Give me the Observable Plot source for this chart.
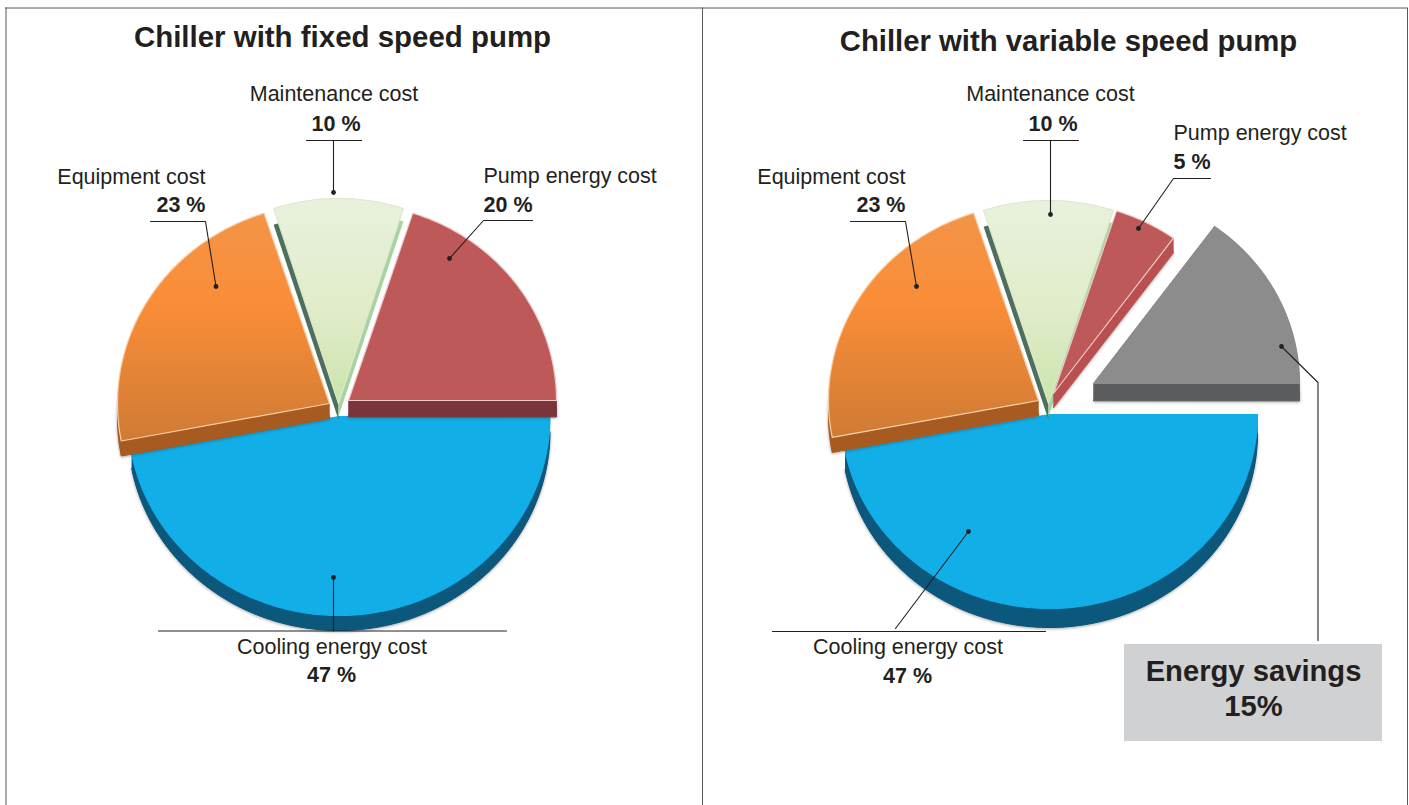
<!DOCTYPE html>
<html>
<head>
<meta charset="utf-8">
<script src="https://cdn.jsdelivr.net/npm/d3@7"></script>
<script src="https://cdn.jsdelivr.net/npm/@observablehq/plot@0.6"></script>
<style>html,body{margin:0;padding:0;background:#fff}svg{display:block}</style>
</head>
<body>
<div id="chart"></div>
<script>
// ---- values
const titles = ["Chiller with fixed speed pump", "Chiller with variable speed pump"];
const fixedCategories = ["Cooling energy cost", "Equipment cost", "Maintenance cost", "Pump energy cost"];
const fixedValues = [47, 23, 10, 20];
const variableCategories = ["Cooling energy cost", "Equipment cost", "Maintenance cost", "Pump energy cost", "Energy savings"];
const variableValues = [47, 23, 10, 5, 15];
const savingsLabel = ["Energy savings", "15%"];

// ---- exploded-pie layout of each slice (chart units)
const fixedLayout = [
  {cx: 338.5, cy: 416, rx: 211, ry: 199, depth: 15},
  {cx: 329, cy: 403, rx: 212, ry: 200, depth: 15},
  {cx: 338, cy: 403, rx: 210, ry: 205, depth: 13},
  {cx: 348, cy: 400, rx: 208, ry: 197, depth: 16}
];
const variableLayout = [
  {cx: 1049, cy: 414, rx: 208, ry: 194, depth: 19},
  {cx: 1038, cy: 400, rx: 210, ry: 197, depth: 15},
  {cx: 1048, cy: 403, rx: 210, ry: 203, depth: 13},
  {cx: 1053, cy: 393, rx: 204, ry: 192, depth: 14, sideFill: "#b9504f"},
  {cx: 1093, cy: 383, rx: 206, ry: 194, depth: 17}
];
const sliceStyle = {
  "Cooling energy cost": {face: "#12aee8", edge: "#12aee8", side: "#0c587c"},
  "Equipment cost": {face: "url(#orangeFace)", edge: "#f9cfa8", side: "#a85b20"},
  "Maintenance cost": {face: "url(#greenFace)", edge: "#dde8cc", sideL: "#4f6f5e", sideR: "#a8d3a0"},
  "Pump energy cost": {face: "#bd5958", edge: "#f0cccc", side: "#7a343a"},
  "Energy savings": {face: "#8c8c8c", edge: "#8c8c8c", side: "#5b5c5d"}
};

// ---- label placement
const labelSpots = {
  fixed: [
    {cat: 0, x: 331.5, y: 647, py: 675, px: 331, anchor: "middle"},
    {cat: 1, x: 205, y: 177, py: 205, anchor: "end"},
    {cat: 2, x: 333.5, y: 94, py: 123.5, px: 335.5, anchor: "middle"},
    {cat: 3, x: 483, y: 176, py: 204.5, anchor: "start"}
  ],
  variable: [
    {cat: 0, x: 907.5, y: 647, py: 675.5, px: 907, anchor: "middle"},
    {cat: 1, x: 905, y: 177, py: 205, anchor: "end"},
    {cat: 2, x: 1050, y: 94, py: 123.5, px: 1052.5, anchor: "middle"},
    {cat: 3, x: 1173, y: 133, py: 161.5, anchor: "start"}
  ]
};
const leaderPaths = [
  [[306, 140], [361, 140]], [[333, 140], [333, 192]],
  [[150, 221], [205, 221], [215.5, 286]],
  [[532, 220], [483, 220], [449, 258]],
  [[333, 577], [333, 630.5]], [[158, 630.5], [506, 630.5]],
  [[1023, 140], [1078, 140]], [[1050, 140], [1050, 214]],
  [[850, 221], [905, 221], [916, 286]],
  [[1210, 178], [1173, 178], [1138, 228]],
  [[968, 531], [895, 628]], [[772, 631], [1045, 631]],
  [[1281, 346], [1317.5, 382], [1317.5, 640]]
];
const leaderDots = [[333, 192], [215.5, 286], [449, 258], [333, 577], [1050, 214], [916, 286], [1138, 228], [968, 531], [1281, 346]];
const frameColor = "#58595b", ink = "#231f20";

// ---- geometry derived from the values
function arcPoints(g, a0, a1, dy) {
  const pts = [{x: g.cx, y: g.cy + dy}];
  const n = Math.max(4, Math.ceil((a1 - a0) * 60));
  for (let i = 0; i <= n; i++) {
    const a = a0 + (a1 - a0) * i / n;
    pts.push({x: g.cx + g.rx * Math.cos(a), y: g.cy + dy + g.ry * Math.sin(a)});
  }
  return pts;
}
function poly(pts, o) { return Plot.line(pts, {x: "x", y: "y", curve: "linear-closed", ...o}); }

function pieMarks(values, cats, layout) {
  const marks = [];
  let cum = 0;
  values.forEach((v, i) => {
    const a0 = 2 * Math.PI * cum / 100, a1 = 2 * Math.PI * (cum + v) / 100;
    cum += v;
    const g = layout[i], s = sliceStyle[cats[i]];
    const side = g.sideFill || s.side;
    const soft = "drop-shadow(0 1px 1.5px rgba(60,60,60,.45))";
    if (s.sideL) {
      const mid = (a0 + a1) / 2;
      marks.push(poly(arcPoints(g, a0, mid, g.depth * 1.25), {fill: s.sideL, stroke: "none"}));
      marks.push(poly(arcPoints(g, mid, a1, g.depth), {fill: s.sideR, stroke: "none"}));
    } else {
      marks.push(poly(arcPoints(g, a0, a1, g.depth), {fill: side, stroke: side, strokeWidth: 1, imageFilter: soft}));
      // the wall between top face and its extruded copy
      const top = arcPoints(g, a0, a1, 0), low = arcPoints(g, a0, a1, g.depth);
      marks.push(poly([...top.slice(1), ...low.slice(1).reverse()], {fill: side, stroke: "none"}));
      marks.push(poly([top[0], top[top.length - 1], low[low.length - 1], low[0]], {fill: side, stroke: "none"}));
      marks.push(poly([top[0], top[1], low[1], low[0]], {fill: side, stroke: "none"}));
    }
    marks.push(poly(arcPoints(g, a0, a1, 0), {fill: s.face, stroke: s.edge, strokeWidth: 1.2}));
  });
  return marks;
}

function gradients() {
  const defs = d3.create("svg:defs");
  const add = (id, stops) => {
    const lg = defs.append("linearGradient").attr("id", id).attr("x1", 0).attr("x2", 0).attr("y1", 0).attr("y2", 1);
    stops.forEach(([o, c]) => lg.append("stop").attr("offset", o).attr("stop-color", c));
  };
  add("orangeFace", [[0, "#f39447"], [0.4, "#fa8d38"], [1, "#cf7b35"]]);
  add("greenFace", [[0, "#e9f1dd"], [0.55, "#e0ecc9"], [1, "#cbe4ab"]]);
  return defs.node();
}

function labelMarks(spots, cats, values) {
  return spots.flatMap(sp => [
    Plot.text([cats[sp.cat]], {x: () => sp.x, y: () => sp.y, text: d => d, textAnchor: sp.anchor, lineAnchor: "middle", fontSize: 21.5, fill: ink}),
    Plot.text([`${values[sp.cat]} %`], {x: () => sp.px ?? sp.x, y: () => sp.py, text: d => d, textAnchor: sp.anchor, lineAnchor: "middle", fontSize: 21.5, fontWeight: "bold", fill: ink})
  ]);
}

const chart = Plot.plot({
  width: 1409,
  height: 805,
  margin: 0,
  style: {fontFamily: "'Liberation Sans', Arial, sans-serif", background: "#fff"},
  x: {domain: [0, 1409], range: [0, 1409], axis: null},
  y: {domain: [0, 805], range: [0, 805], axis: null},
  marks: [
    gradients,
    Plot.ruleY([7.5], {x1: 5, x2: 1407, stroke: frameColor, strokeWidth: 1}),
    Plot.ruleX([5.5, 702, 1407], {y1: 7.5, y2: 805, stroke: frameColor, strokeWidth: 1}),
    ...pieMarks(fixedValues, fixedCategories, fixedLayout),
    ...pieMarks(variableValues, variableCategories, variableLayout),
    Plot.rect([0], {x1: () => 1124, x2: () => 1382, y1: () => 644, y2: () => 741, fill: "#d0d1d3"}),
    ...leaderPaths.map(p => Plot.line(p, {x: d => d[0], y: d => d[1], stroke: ink, strokeWidth: 1.1})),
    Plot.dot(leaderDots, {x: d => d[0], y: d => d[1], r: 2.4, fill: ink}),
    Plot.text([titles[0]], {x: () => 342, y: () => 37.5, text: d => d, fontSize: 29.45, fontWeight: "bold", lineAnchor: "middle", fill: ink}),
    Plot.text([titles[1]], {x: () => 1068, y: () => 41.5, text: d => d, fontSize: 29.3, fontWeight: "bold", lineAnchor: "middle", fill: ink}),
    ...labelMarks(labelSpots.fixed, fixedCategories, fixedValues),
    ...labelMarks(labelSpots.variable, variableCategories, variableValues),
    Plot.text([savingsLabel[0]], {x: () => 1253, y: () => 671.5, text: d => d, fontSize: 29.2, fontWeight: "bold", lineAnchor: "middle", fill: ink}),
    Plot.text([savingsLabel[1]], {x: () => 1253, y: () => 706.5, text: d => d, fontSize: 29.2, fontWeight: "bold", lineAnchor: "middle", fill: ink})
  ]
});
document.getElementById("chart").appendChild(chart);
</script>
</body>
</html>
